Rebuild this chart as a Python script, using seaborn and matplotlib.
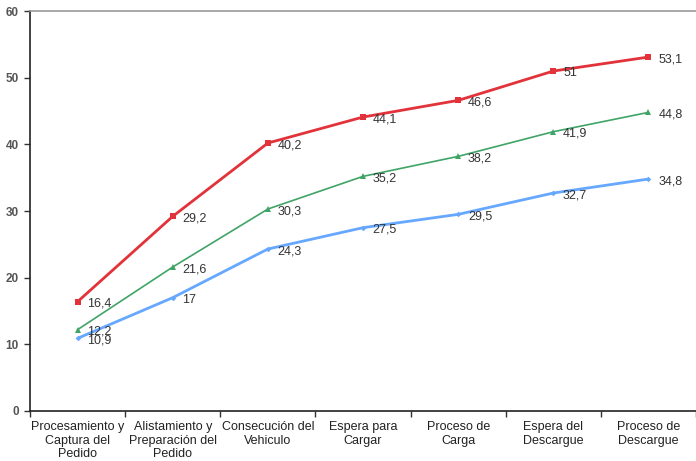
import numpy as np
import pandas as pd
import matplotlib
matplotlib.use('Agg')
import matplotlib.pyplot as plt
import seaborn as sns

etapas = ['Procesamiento y\nCaptura del\nPedido', 'Alistamiento y\nPreparación del\nPedido',
          'Consecución del\nVehiculo', 'Espera para\nCargar', 'Proceso de\nCarga',
          'Espera del\nDescargue', 'Proceso de\nDescargue']
serie_alta = [16.4, 29.2, 40.2, 44.1, 46.6, 51, 53.1]
serie_media = [12.2, 21.6, 30.3, 35.2, 38.2, 41.9, 44.8]
serie_baja = [10.9, 17, 24.3, 27.5, 29.5, 32.7, 34.8]

sns.set_style('white')
plt.rcParams['font.family'] = ['Liberation Sans', 'DejaVu Sans']

fig = plt.figure(figsize=(6.96, 4.61), dpi=100)
ax = fig.add_axes([0.0431, 0.1085, 0.957, 0.8675])

pos = np.arange(len(etapas))
series = [
    (serie_alta, '#e2323a', 's', 2.0, 4.5),
    (serie_media, '#3fa466', '^', 1.2, 4.5),
    (serie_baja, '#66a8ff', 'D', 2.0, 2.8),
]
for vals, color, marker, lw, ms in series:
    df = pd.DataFrame({'x': pos, 'y': vals})
    sns.lineplot(data=df, x='x', y='y', ax=ax, color=color, marker=marker,
                 linewidth=lw, markersize=ms, markeredgewidth=0)
    for x, y in zip(pos, vals):
        txt = f'{y:g}'.replace('.', ',')
        ax.annotate(txt, (x, y), xytext=(7, -1.5), textcoords='offset points',
                    fontsize=9, color='#333333', va='center', ha='left')

ax.set_xlim(-0.5, len(etapas) - 0.5)
ax.set_ylim(0, 60)
ax.set_yticks(range(0, 61, 10))
ax.set_xticks(pos)
ax.set_xticklabels(etapas, fontsize=9, color='#222222', linespacing=1.2)
ax.set_xticks(np.arange(-0.5, len(etapas), 1), minor=True)
ax.tick_params(axis='x', which='major', length=0, pad=7, bottom=True)
ax.tick_params(axis='x', which='minor', length=4, width=1, color='#333333',
               direction='out', bottom=True)
ax.tick_params(axis='y', length=4, width=1, color='#333333', direction='out',
               labelsize=8.5, labelcolor='#555555', pad=4, left=True)
for lab in ax.get_yticklabels():
    lab.set_fontweight('bold')
ax.set_xlabel('')
ax.set_ylabel('')

ax.spines['left'].set_color('#222222')
ax.spines['bottom'].set_color('#222222')
ax.spines['left'].set_linewidth(1.2)
ax.spines['bottom'].set_linewidth(1.2)
ax.spines['top'].set_color('#999999')
ax.spines['top'].set_linewidth(1.2)
ax.spines['right'].set_visible(False)

fig.savefig('out.png', dpi=100)
